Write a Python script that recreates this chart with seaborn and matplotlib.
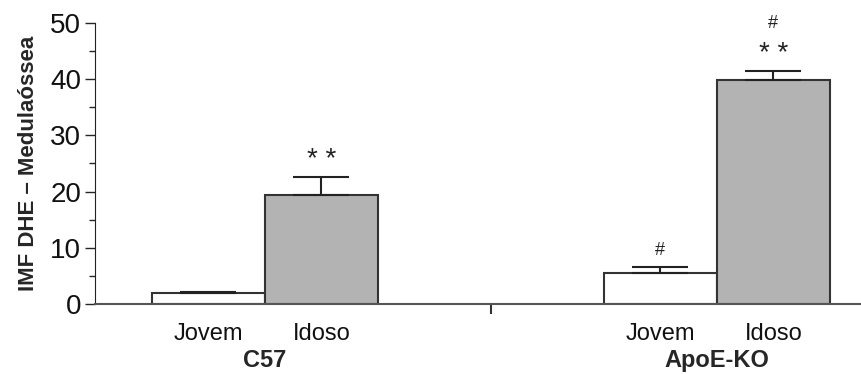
import numpy as np
import matplotlib
matplotlib.use('Agg')
import matplotlib.pyplot as plt
import seaborn as sns
import pandas as pd

# valores
grupos = ['C57', 'C57', 'ApoE-KO', 'ApoE-KO']
idades = ['Jovem', 'Idoso', 'Jovem', 'Idoso']
medias = [1.9, 19.4, 5.6, 39.9]
erros = [0.15, 3.2, 1.0, 1.6]
marcas = ['', '**', '#', '#\n**']

df = pd.DataFrame({'grupo': grupos, 'idade': idades, 'IMF': medias})

sns.set_style('ticks')
plt.rcParams['font.family'] = ['Liberation Sans', 'DejaVu Sans']

fig = plt.figure(figsize=(8.62, 3.74), dpi=100)
ax = fig.add_axes([0.1102, 0.1872, 0.8898, 0.7513])

sns.barplot(data=df, x='grupo', y='IMF', hue='idade', hue_order=['Jovem', 'Idoso'],
            palette={'Jovem': 'white', 'Idoso': '#b3b3b3'}, width=0.5,
            edgecolor='#333333', linewidth=1.5, errorbar=None, legend=False, ax=ax)

bars = sorted([p for p in ax.patches if p.get_height() > 0], key=lambda p: p.get_x())
centros = [p.get_x() + p.get_width() / 2 for p in bars]

ax.errorbar(centros, medias, yerr=[np.zeros(len(erros)), erros], fmt='none',
            ecolor='#222222', elinewidth=1.5, capsize=20, capthick=1.5, zorder=1)

for x, m, e, t in zip(centros, medias, erros, marcas):
    if not t:
        continue
    linhas = t.split('\n')
    for i, s in enumerate(reversed(linhas)):
        fs = 20 if s == '**' else 13
        txt = '* *' if s == '**' else s
        ax.annotate(txt, (x, m + e), xytext=(0, 12 + 22 * i), textcoords='offset points',
                    ha='center', va='center', fontsize=fs, color='#222222')

ax.set_ylim(0, 50)
ax.set_xlim(-0.376, 1.321)
ax.set_yticks(np.arange(0, 51, 10))
ax.set_yticks(np.arange(5, 50, 10), minor=True)
ax.set_xticks(centros)
ax.set_xticklabels(idades)
ax.set_xticks([0.5], minor=True)
ax.tick_params(axis='x', which='major', length=0, pad=14, labelsize=17, labelcolor='#111111')
ax.tick_params(axis='x', which='minor', length=7, width=1.5, color='#333333')
ax.tick_params(axis='y', which='major', length=7, width=1, labelsize=20, pad=3,
               labelcolor='#111111')
ax.tick_params(axis='y', which='minor', length=4, width=1)

for g, xg in zip(['C57', 'ApoE-KO'], [0, 1]):
    ax.annotate(g, (xg, 0), xycoords=('data', 'axes fraction'), xytext=(0, -41),
                textcoords='offset points', ha='center', va='center',
                fontsize=17, fontweight='bold')

ax.set_xlabel('')
ax.set_ylabel('IMF DHE – Medulaóssea', fontsize=16, fontweight='bold', labelpad=8)
sns.despine(ax=ax)
ax.spines['left'].set_color('#222222')
ax.spines['bottom'].set_color('#555555')
ax.spines['bottom'].set_linewidth(1.5)

fig.savefig('out.png', dpi=100)
